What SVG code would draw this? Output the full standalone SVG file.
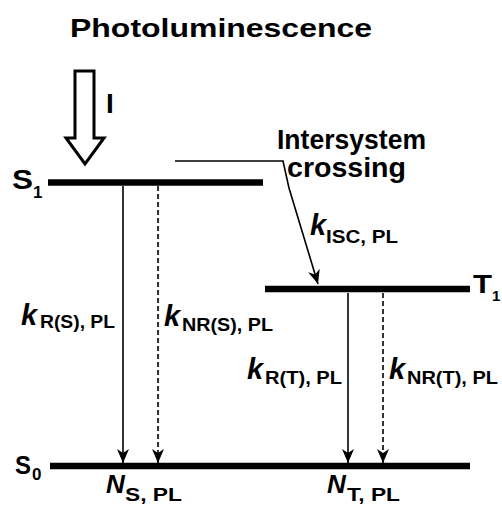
<svg xmlns="http://www.w3.org/2000/svg" width="502" height="510" viewBox="0 0 502 510">
<style>
text{font-family:"Liberation Sans",Arial,Helvetica,sans-serif;fill:#000}
.t{font-size:26px;font-weight:bold}
.big{font-size:27px;font-weight:bold}
.lab{font-weight:bold}
.k{font-size:29px;font-style:italic;font-weight:bold}
.sub{font-size:19px;font-weight:bold}
.lvl{stroke:#000;stroke-width:6.5;fill:none}
.sol{stroke:#000;stroke-width:1.6;fill:none}
.dash{stroke:#000;stroke-width:1.6;fill:none;stroke-dasharray:5 3}
</style>
<defs>
<marker id="ah" markerUnits="userSpaceOnUse" markerWidth="16" markerHeight="14" refX="14" refY="6.5" orient="auto" viewBox="0 0 16 14">
<path d="M0,0.5 L14,6.5 L0,12.5 L4,6.5 z" fill="#000"/>
</marker>
</defs>
<rect width="502" height="510" fill="#fff"/>
<g id="title">
<text class="t" x="70" y="37" textLength="302" lengthAdjust="spacingAndGlyphs">Photoluminescence</text>
</g>
<g id="excitation">
<polygon points="75,71 94,71 94,138 104,138 85,164 66,138 75,138" fill="#fff" stroke="#000" stroke-width="3" stroke-linejoin="miter"/>
<text class="lab" x="106" y="113" style="font-size:28px">I</text>
</g>
<g id="S1">
<line class="lvl" x1="48" y1="182.5" x2="263" y2="182.5"/>
<text class="lab" x="12" y="189" style="font-size:27px" textLength="21" lengthAdjust="spacingAndGlyphs">S</text>
<text class="lab" x="33" y="198" style="font-size:17px">1</text>
</g>
<g id="T1">
<line class="lvl" x1="265" y1="289" x2="470" y2="289"/>
<text class="lab" x="473" y="293" style="font-size:25px" textLength="19" lengthAdjust="spacingAndGlyphs">T</text>
<text class="lab" x="492" y="301" style="font-size:15px">1</text>
</g>
<g id="S0">
<line class="lvl" x1="50" y1="466" x2="470" y2="466"/>
<text class="lab" x="15" y="474" style="font-size:26px" textLength="16" lengthAdjust="spacingAndGlyphs">S</text>
<text class="lab" x="32" y="480" style="font-size:17px">0</text>
</g>
<g id="isc-label">
<text x="277" y="149" class="big" textLength="149" lengthAdjust="spacingAndGlyphs">Intersystem</text>
<text x="287" y="177" class="big" textLength="119" lengthAdjust="spacingAndGlyphs">crossing</text>
</g>
<g id="connectors">
<path class="sol" d="M175,161 L283,161 L289,188 L318,284" marker-end="url(#ah)"/>
<line class="sol" x1="123" y1="186" x2="123" y2="463" marker-end="url(#ah)"/>
<line class="dash" x1="158" y1="186" x2="158" y2="463" marker-end="url(#ah)"/>
<line class="sol" x1="348" y1="293" x2="348" y2="463" marker-end="url(#ah)"/>
<line class="dash" x1="383" y1="293" x2="383" y2="463" marker-end="url(#ah)"/>
</g>
<g id="rate-labels">
<text class="k" x="310" y="235">k</text>
<text class="sub" x="326" y="243" textLength="72" lengthAdjust="spacingAndGlyphs">ISC, PL</text>
<text class="k" x="21" y="325">k</text>
<text class="sub" x="40" y="328" textLength="75" lengthAdjust="spacingAndGlyphs">R(S), PL</text>
<text class="k" x="164" y="326">k</text>
<text class="sub" x="182" y="331" textLength="91" lengthAdjust="spacingAndGlyphs">NR(S), PL</text>
<text class="k" x="247" y="379">k</text>
<text class="sub" x="265" y="384" textLength="77" lengthAdjust="spacingAndGlyphs">R(T), PL</text>
<text class="k" x="389" y="379">k</text>
<text class="sub" x="407" y="384" textLength="91" lengthAdjust="spacingAndGlyphs">NR(T), PL</text>
</g>
<g id="population-labels">
<text class="k" x="106" y="493" style="font-size:26px">N</text>
<text class="sub" x="125" y="501" textLength="57" lengthAdjust="spacingAndGlyphs">S, PL</text>
<text class="k" x="327" y="493" style="font-size:26px">N</text>
<text class="sub" x="347" y="501" textLength="53" lengthAdjust="spacingAndGlyphs">T, PL</text>
</g>
</svg>
